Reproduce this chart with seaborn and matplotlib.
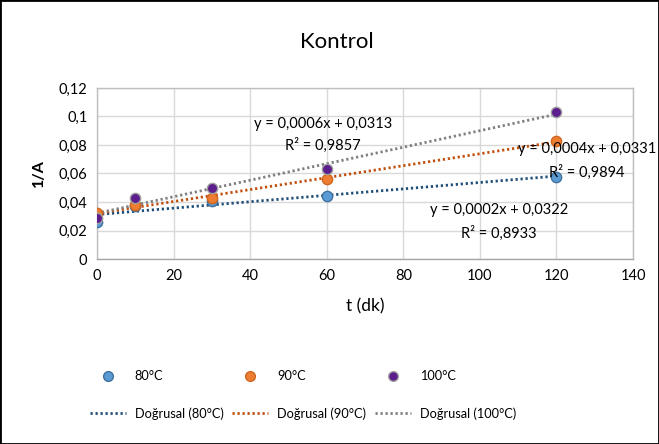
import numpy as np
import pandas as pd
import matplotlib.pyplot as plt
import seaborn as sns
from matplotlib.ticker import FuncFormatter, MultipleLocator
from matplotlib.patches import Rectangle
from matplotlib.lines import Line2D

# data
t_dk = [0, 10, 30, 60, 120]
inv_a_80 = [0.026, 0.037, 0.041, 0.044, 0.0575]
inv_a_90 = [0.032, 0.038, 0.043, 0.056, 0.083]
inv_a_100 = [0.029, 0.043, 0.050, 0.063, 0.103]
series_names = ["80°C", "90°C", "100°C"]
eq_labels = ["y = 0,0002x + 0,0322", "y = 0,0004x + 0,0331", "y = 0,0006x + 0,0313"]
r2_labels = ["R² = 0,8933", "R² = 0,9894", "R² = 0,9857"]

point_colors = ["#5B9BD5", "#ED7D31", "#5B1E8C"]
edge_colors = ["#41719C", "#D0661E", "#A0A0A0"]
line_colors = ["#1F4E79", "#C0500F", "#7F7F7F"]

sns.set_theme(style="white")
plt.rcParams["font.family"] = ["Lato", "DejaVu Sans"]
plt.rcParams["text.color"] = "black"
plt.rcParams["axes.labelcolor"] = "black"

df = pd.DataFrame({
    "t": t_dk * 3,
    "y": inv_a_80 + inv_a_90 + inv_a_100,
    "seri": [s for s in series_names for _ in t_dk],
})

fig = plt.figure(figsize=(6.59, 4.44), dpi=100)
ax = fig.add_axes([97 / 659, 1 - 259 / 444, (633 - 97) / 659, (259 - 88) / 444])

dots = (0, (0.8, 1.0))
for i, name in enumerate(series_names):
    sub = df[df["seri"] == name]
    sns.regplot(data=sub, x="t", y="y", scatter=False, ci=None, ax=ax,
                line_kws={"color": line_colors[i], "linestyle": dots,
                          "linewidth": 2.0, "zorder": 2})
    sns.scatterplot(data=sub, x="t", y="y", ax=ax, color=point_colors[i],
                    edgecolor=edge_colors[i], linewidth=1.0, s=55, zorder=3,
                    legend=False)

# legend handles (column-wise: point, trendline)
handles = []
for i, name in enumerate(series_names):
    handles.append(Line2D([], [], marker="o", linestyle="none", markersize=7,
                          markerfacecolor=point_colors[i], markeredgecolor=edge_colors[i],
                          label=name))
    handles.append(Line2D([], [], color=line_colors[i], linestyle=dots,
                          linewidth=2.0, label=f"Doğrusal ({name})"))

ax.set_xlim(0, 140)
ax.set_ylim(0, 0.12)
ax.xaxis.set_major_locator(MultipleLocator(20))
ax.yaxis.set_major_locator(MultipleLocator(0.02))
ax.yaxis.set_major_formatter(FuncFormatter(
    lambda v, p: f"{v:.2f}".rstrip("0").rstrip(".").replace(".", ",") if v else "0"))
ax.grid(True, color="#D9D9D9", linewidth=1.0)
ax.set_axisbelow(True)
for side, sp in ax.spines.items():
    sp.set_color("#BFBFBF")
    sp.set_linewidth(1.0)
ax.spines["bottom"].set_color("#A6A6A6")
ax.tick_params(axis="both", labelsize=10.5, length=0, pad=7, colors="black")

ax.set_xlabel("t (dk)", fontsize=12.5, labelpad=11)
ax.set_ylabel("1/A", fontsize=11.5, fontweight="bold", labelpad=9)
fig.text(337 / 659, 1 - 42 / 444, "Kontrol", ha="center", va="center", fontsize=16)

# trendline equations
eq_pos = [(105, 0.0344, 0.0182), (128, 0.0772, 0.0605), (59, 0.0947, 0.0800)]
for i in range(3):
    x, y1, y2 = eq_pos[i]
    ax.text(x, y1, eq_labels[i], ha="center", va="center", fontsize=10.5)
    ax.text(x, y2, r2_labels[i], ha="center", va="center", fontsize=10.5)

fig.legend(handles=handles, loc="center", bbox_to_anchor=(303 / 659, 1 - 395 / 444),
           ncol=3, frameon=False, fontsize=9.2, columnspacing=0.7,
           handlelength=2.8, handletextpad=0.7, labelspacing=1.95,
           markerscale=1.0)

fig.patches.append(Rectangle((0, 0), 1, 1, transform=fig.transFigure, fill=False,
                             edgecolor="black", linewidth=2))

fig.savefig("out.png", dpi=100)
